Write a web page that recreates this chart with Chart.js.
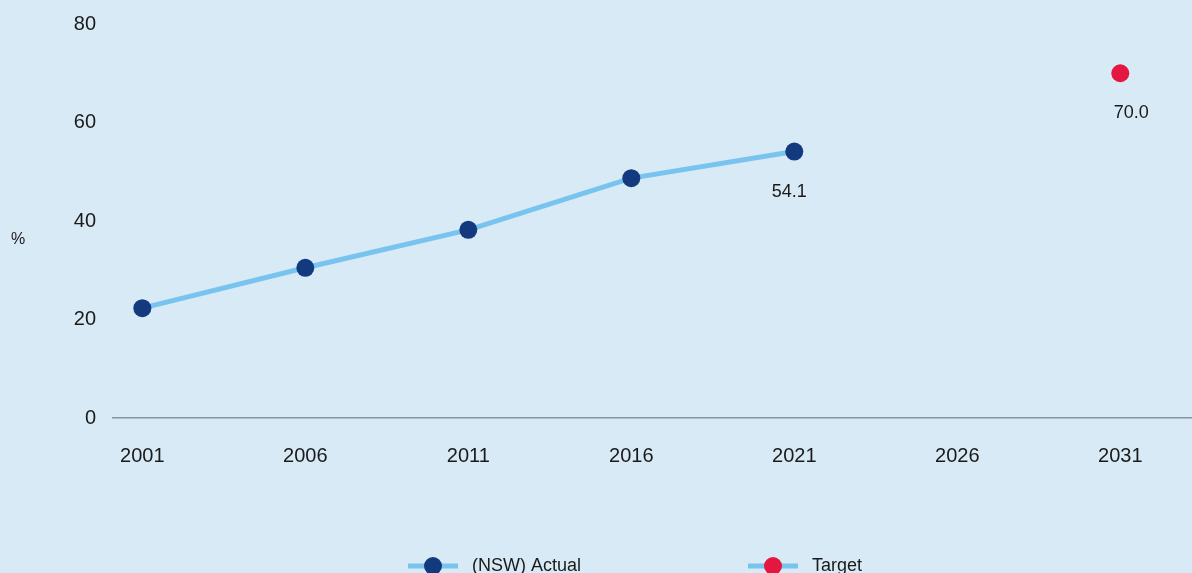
<!DOCTYPE html>
<html>
<head>
<meta charset="utf-8">
<script src="https://cdn.jsdelivr.net/npm/chart.js@4"></script>
<style>
  html, body { margin: 0; padding: 0; background: #D9EAF7; }
  #wrap { width: 1192px; height: 573px; position: relative; }
</style>
</head>
<body>
<div id="wrap"><canvas id="c" width="1192" height="573"></canvas></div>
<script>
// ---- data ----
const years = [2001, 2006, 2011, 2016, 2021, 2026, 2031];
const actualYears = [2001, 2006, 2011, 2016, 2021];
const actualValues = [22.3, 30.5, 38.2, 48.7, 54.1];
const targetYears = [2031];
const targetValues = [70.0];
const yTicks = [0, 20, 40, 60, 80];
const seriesNames = ['(NSW) Actual', 'Target'];
const yUnit = '%';

const FONT = '"Liberation Sans", Arial, sans-serif';
const LINE = '#79C4EE';
const NAVY = '#133A7E';
const RED = '#E3173F';

const toPoints = (xs, ys) => xs.map((x, i) => ({ x: x, y: ys[i] }));

const labelsPlugin = {
  id: 'lastLabels',
  afterDatasetsDraw(chart) {
    const ctx = chart.ctx;
    ctx.save();
    ctx.font = '18px ' + FONT;
    ctx.fillStyle = '#1a1a1a';
    ctx.textAlign = 'center';
    ctx.textBaseline = 'middle';
    chart.data.datasets.forEach((ds, di) => {
      const meta = chart.getDatasetMeta(di);
      const idx = ds.data.length - 1;
      const el = meta.data[idx];
      const v = ds.data[idx].y;
      const dx = di === 0 ? -5 : 11;
      ctx.fillText(v.toFixed(1), el.x + dx, el.y + 40);
    });
    ctx.restore();
  }
};

const unitPlugin = {
  id: 'unitLabel',
  afterDraw(chart) {
    const ctx = chart.ctx;
    const a = chart.chartArea;
    ctx.save();
    ctx.font = '16px ' + FONT;
    ctx.fillStyle = '#1a1a1a';
    ctx.textAlign = 'center';
    ctx.textBaseline = 'middle';
    ctx.fillText(yUnit, 18, (a.top + a.bottom) / 2 + 19);
    ctx.restore();
  }
};

const legendPlugin = {
  id: 'lineLegend',
  afterDraw(chart) {
    const ctx = chart.ctx;
    ctx.save();
    ctx.font = '18px ' + FONT;
    ctx.textBaseline = 'middle';
    ctx.textAlign = 'left';
    const y = 566;
    let x = 408;
    chart.data.datasets.forEach((ds) => {
      ctx.strokeStyle = ds.borderColor;
      ctx.lineWidth = 5;
      ctx.beginPath();
      ctx.moveTo(x, y);
      ctx.lineTo(x + 50, y);
      ctx.stroke();
      ctx.fillStyle = ds.pointBackgroundColor;
      ctx.beginPath();
      ctx.arc(x + 25, y, 9, 0, Math.PI * 2);
      ctx.fill();
      ctx.fillStyle = '#1a1a1a';
      ctx.fillText(ds.label, x + 64, y);
      x += 340;
    });
    ctx.restore();
  }
};

new Chart(document.getElementById('c'), {
  type: 'line',
  data: {
    datasets: [
      {
        label: seriesNames[0],
        data: toPoints(actualYears, actualValues),
        borderColor: LINE,
        borderWidth: 5,
        pointBackgroundColor: NAVY,
        pointBorderColor: NAVY,
        pointRadius: 9,
        pointBorderWidth: 0,
        tension: 0
      },
      {
        label: seriesNames[1],
        data: toPoints(targetYears, targetValues),
        borderColor: LINE,
        borderWidth: 5,
        pointBackgroundColor: RED,
        pointBorderColor: RED,
        pointRadius: 9,
        pointBorderWidth: 0,
        showLine: false
      }
    ]
  },
  options: {
    responsive: false,
    animation: false,
    layout: { autoPadding: false, padding: { top: 24, right: 0, bottom: 79, left: 0 } },
    plugins: {
      legend: { display: false },
      tooltip: { enabled: false }
    },
    scales: {
      x: {
        type: 'linear',
        min: 2000.1,
        max: 2033.2,
        afterBuildTicks: (s) => { s.ticks = years.map(v => ({ value: v })); },
        ticks: {
          callback: (v) => String(v),
          font: { family: FONT, size: 20 },
          color: '#1a1a1a',
          padding: 26,
          maxRotation: 0,
          autoSkip: false
        },
        grid: { display: true, drawOnChartArea: false, drawTicks: false },
        border: { display: true, color: '#8593A0', width: 1.5 }
      },
      y: {
        min: 0,
        max: 80,
        afterBuildTicks: (s) => { s.ticks = yTicks.map(v => ({ value: v })); },
        afterFit: (s) => { s.width = 113; s.paddingTop = 0; s.paddingBottom = 0; },
        ticks: {
          font: { family: FONT, size: 20 },
          color: '#1a1a1a',
          padding: 17
        },
        grid: { display: false, drawTicks: false },
        border: { display: false }
      }
    }
  },
  plugins: [labelsPlugin, unitPlugin, legendPlugin]
});
</script>
</body>
</html>
